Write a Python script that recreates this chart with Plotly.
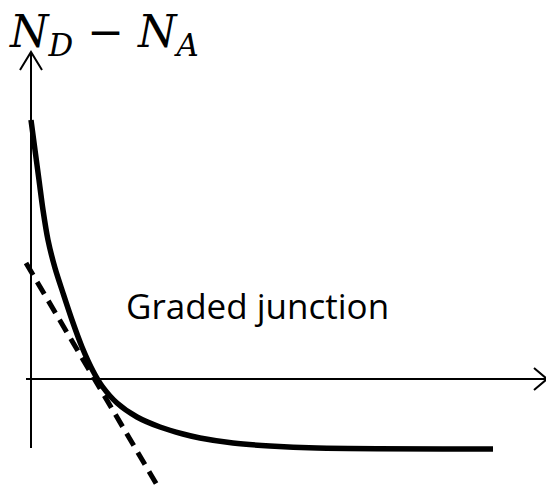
import plotly.graph_objects as go

# Doping profile N_D - N_A versus depth (arbitrary units)
depth = [0.0, 0.4, 0.8, 1.2, 1.7, 2.4, 3.2, 4.1, 5.1, 6.2, 7.1, 8.6, 10.6, 12.9, 15.2, 16.9, 20.2, 23.9, 28.6, 46.2]
net_doping = [25.9, 22.9, 19.9, 16.9, 13.9, 11.1, 8.6, 5.9, 3.2, 0.8, -0.7, -2.4, -3.8, -4.8, -5.5, -5.9, -6.4, -6.7, -6.9, -7.0]

# Linear approximation at the junction (tangent line)
tangent_x = [-0.5, 12.6]
tangent_y = [11.6, -10.6]

# Axis extents
x_axis_span = [-0.5, 51.6]
y_axis_span = [-6.9, 32.7]

title_text = "<i>N</i><sub><i>D</i></sub> − <i>N</i><sub><i>A</i></sub>"
label_text = "Graded junction"

fig = go.Figure()

axis_style = dict(color="black", width=2)
head_len, head_half = 1.3, 1.1

# horizontal axis with open arrowhead
fig.add_trace(go.Scatter(x=x_axis_span, y=[0, 0], mode="lines", line=axis_style, hoverinfo="skip"))
xe = x_axis_span[1]
fig.add_trace(go.Scatter(x=[xe - head_len, xe, xe - head_len], y=[head_half, 0, -head_half],
                         mode="lines", line=axis_style, hoverinfo="skip"))

# vertical axis with open arrowhead
fig.add_trace(go.Scatter(x=[0, 0], y=y_axis_span, mode="lines", line=axis_style, hoverinfo="skip"))
ye = y_axis_span[1]
fig.add_trace(go.Scatter(x=[-head_half, 0, head_half], y=[ye - 1.8, ye, ye - 1.8],
                         mode="lines", line=axis_style, hoverinfo="skip"))

# tangent (dashed)
fig.add_trace(go.Scatter(x=tangent_x, y=tangent_y, mode="lines",
                         line=dict(color="black", width=5, dash="14px,8px"), hoverinfo="skip"))

# doping profile
fig.add_trace(go.Scatter(x=depth, y=net_doping, mode="lines",
                         line=dict(color="black", width=5.5, shape="spline", smoothing=0.8),
                         hoverinfo="skip"))

fig.add_annotation(x=9.3, y=7.4, xref="x", yref="y", text=label_text, showarrow=False,
                   xanchor="left", yanchor="middle",
                   font=dict(family="Open Sans", size=35, color="black"))

fig.add_annotation(x=0.012, y=0.992, xref="paper", yref="paper", text=title_text, showarrow=False,
                   xanchor="left", yanchor="top",
                   font=dict(family="DejaVu Serif", size=44, color="black"))

fig.update_layout(
    width=546, height=492,
    margin=dict(l=0, r=0, t=0, b=0),
    paper_bgcolor="white", plot_bgcolor="white",
    showlegend=False,
    xaxis=dict(range=[-3.1, 51.5], visible=False, fixedrange=True),
    yaxis=dict(range=[-11.3, 37.9], visible=False, fixedrange=True),
)

fig.write_html("out.html")
